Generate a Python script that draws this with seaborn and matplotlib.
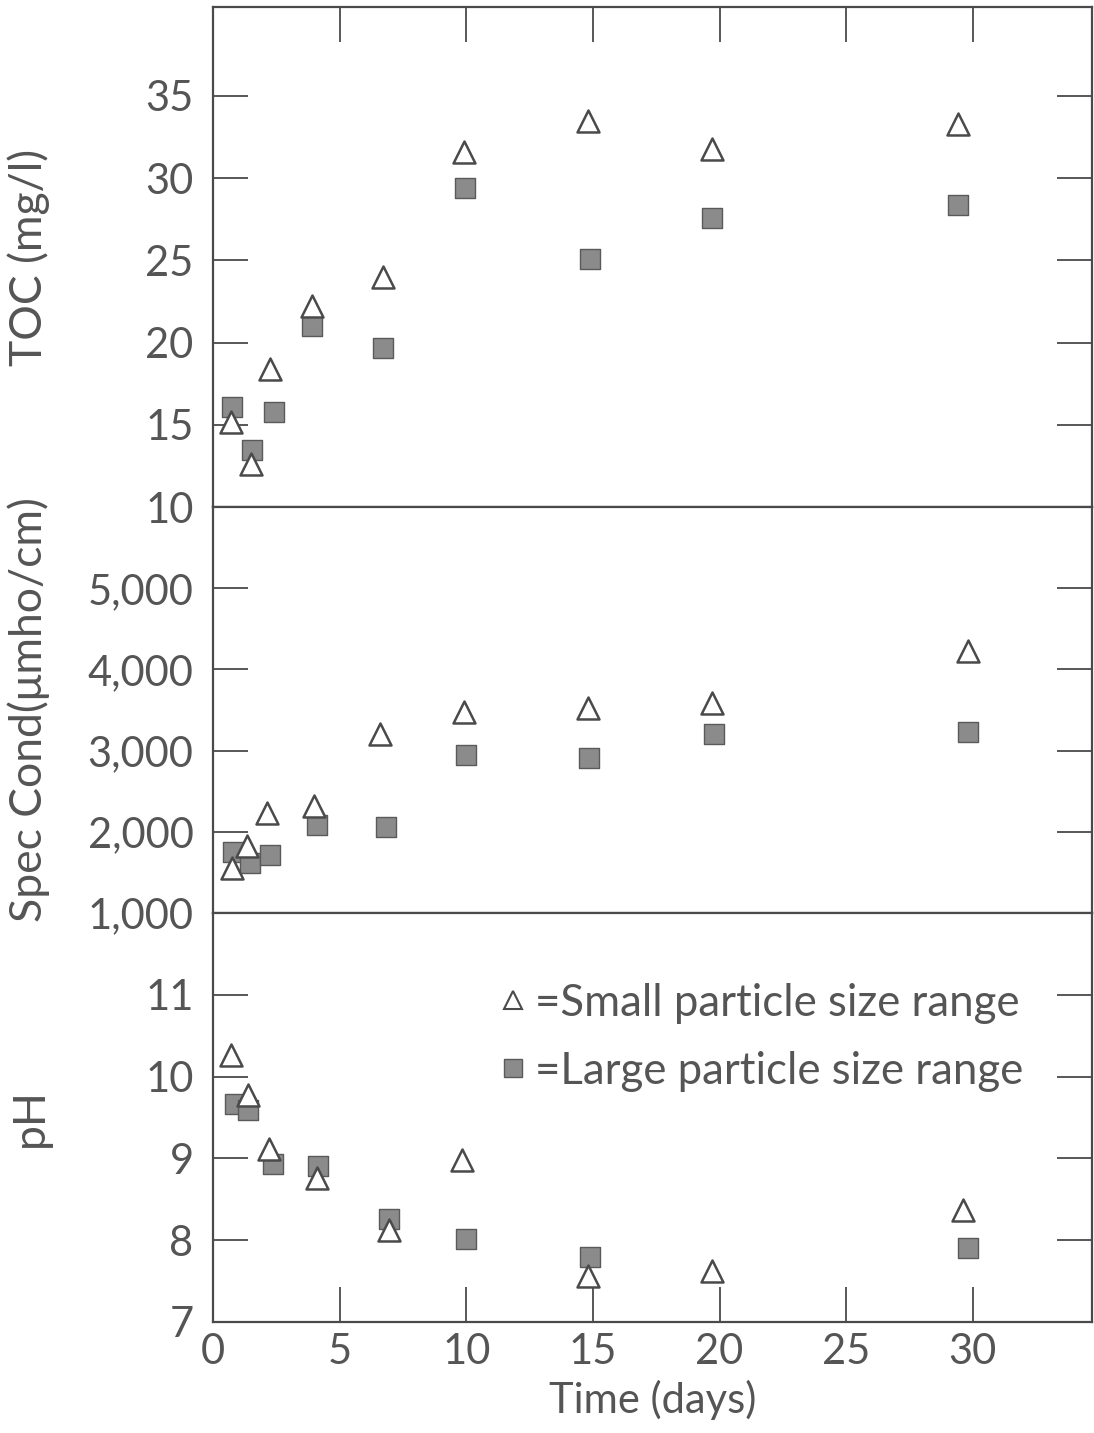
import matplotlib
matplotlib.use("Agg")
import matplotlib.pyplot as plt
from matplotlib.lines import Line2D
import seaborn as sns
import pandas as pd

# ---- data ----
toc_small_days = [0.7, 1.5, 2.25, 3.9, 6.7, 9.9, 14.8, 19.7, 29.4]
toc_small = [15.2, 12.6, 18.4, 22.2, 24.0, 31.6, 33.5, 31.8, 33.3]
toc_large_days = [0.75, 1.55, 2.4, 3.9, 6.7, 9.95, 14.9, 19.7, 29.4]
toc_large = [16.1, 13.5, 15.8, 21.0, 19.7, 29.4, 25.1, 27.6, 28.4]

cond_small_days = [0.75, 1.35, 2.15, 4.0, 6.6, 9.9, 14.8, 19.7, 29.8]
cond_small = [1550, 1830, 2235, 2320, 3200, 3470, 3520, 3590, 4230]
cond_large_days = [0.8, 1.45, 2.25, 4.1, 6.85, 10.0, 14.85, 19.8, 29.8]
cond_large = [1750, 1610, 1720, 2090, 2065, 2945, 2910, 3200, 3230]

ph_small_days = [0.7, 1.4, 2.2, 4.1, 6.95, 9.85, 14.8, 19.7, 29.6]
ph_small = [10.26, 9.77, 9.12, 8.76, 8.12, 8.98, 7.56, 7.62, 8.37]
ph_large_days = [0.85, 1.4, 2.35, 4.15, 6.95, 10.0, 14.9, 29.8]
ph_large = [9.67, 9.59, 8.93, 8.91, 8.26, 8.02, 7.8, 7.91]

x_ticks = [0, 5, 10, 15, 20, 25, 30]
toc_ticks = [10, 15, 20, 25, 30, 35]
cond_ticks = [1000, 2000, 3000, 4000, 5000]
cond_ticklabels = ["1,000", "2,000", "3,000", "4,000", "5,000"]
ph_ticks = [7, 8, 9, 10, 11]

small_label = "=Small particle size range"
large_label = "=Large particle size range"

INK = "#4a4a4a"
TEXT = "#555555"
SQUARE_FILL = "#8b8b8b"

sns.set_theme(style="white")
plt.rcParams["font.family"] = ["Lato", "DejaVu Sans"]

fig, axes = plt.subplots(3, 1, figsize=(10.94, 14.33), dpi=100, sharex=True,
                         gridspec_kw=dict(height_ratios=[500, 406, 409], hspace=0))
fig.subplots_adjust(left=0.1947, right=0.998, top=0.995, bottom=0.0775)

panels = [
    (toc_small_days, toc_small, toc_large_days, toc_large),
    (cond_small_days, cond_small, cond_large_days, cond_large),
    (ph_small_days, ph_small, ph_large_days, ph_large),
]

for ax, (xs, ys, xl, yl) in zip(axes, panels):
    df_s = pd.DataFrame({"day": xs, "val": ys})
    df_l = pd.DataFrame({"day": xl, "val": yl})
    sns.scatterplot(data=df_l, x="day", y="val", marker="s", s=215,
                    color=SQUARE_FILL, edgecolor="#5a5a5a", linewidth=1.0,
                    ax=ax, zorder=3)
    sns.scatterplot(data=df_s, x="day", y="val", marker="^", s=250,
                    color="white", edgecolor=INK, linewidth=1.8,
                    ax=ax, zorder=4)
    for sp in ax.spines.values():
        sp.set_color(INK)
        sp.set_linewidth(1.6)
    ax.set_xlabel("")
    ax.tick_params(axis="y", direction="in", length=25, width=1.3,
                   left=True, right=True, colors=INK, labelcolor=TEXT,
                   labelsize=30, pad=14)

axes[0].set_ylim(10, 40.4)
axes[0].set_yticks(toc_ticks)
axes[0].set_ylabel("TOC (mg/l)", fontsize=32, color=TEXT)

axes[1].set_ylim(1000, 6000)
axes[1].set_yticks(cond_ticks)
axes[1].set_yticklabels(cond_ticklabels)
axes[1].set_ylabel("Spec Cond(\u03bcmho/cm)", fontsize=32, color=TEXT)

axes[2].set_ylim(7, 12)
axes[2].set_yticks(ph_ticks)
axes[2].set_ylabel("pH", fontsize=32, color=TEXT)

for ax in axes:
    ax.yaxis.set_label_coords(-0.185, 0.5)

axes[2].set_xlim(0, 34.7)
axes[2].set_xticks(x_ticks)
axes[0].tick_params(axis="x", direction="in", length=25, width=1.3, colors=INK,
                    top=True, bottom=False, labeltop=False, labelbottom=False)
axes[1].tick_params(axis="x", bottom=False, top=False, labelbottom=False)
axes[2].tick_params(axis="x", direction="in", length=25, width=1.3, colors=INK,
                    labelcolor=TEXT, top=False, bottom=True, labelsize=30, pad=8)
axes[2].set_xlabel("Time (days)", fontsize=30, color=TEXT, labelpad=6)

handles = [
    Line2D([], [], marker="^", ls="", mfc="white", mec=INK, ms=13, mew=1.5),
    Line2D([], [], marker="s", ls="", mfc=SQUARE_FILL, mec="#5a5a5a", ms=13, mew=1.0),
]
leg = axes[2].legend(handles, [small_label, large_label], loc="upper left",
                     bbox_to_anchor=(0.322, 0.83), frameon=False, fontsize=31.5,
                     handletextpad=0.1, handlelength=0.8, labelspacing=0.62,
                     borderaxespad=0, borderpad=0)
for t in leg.get_texts():
    t.set_color(TEXT)

fig.savefig("out.png", dpi=100)
